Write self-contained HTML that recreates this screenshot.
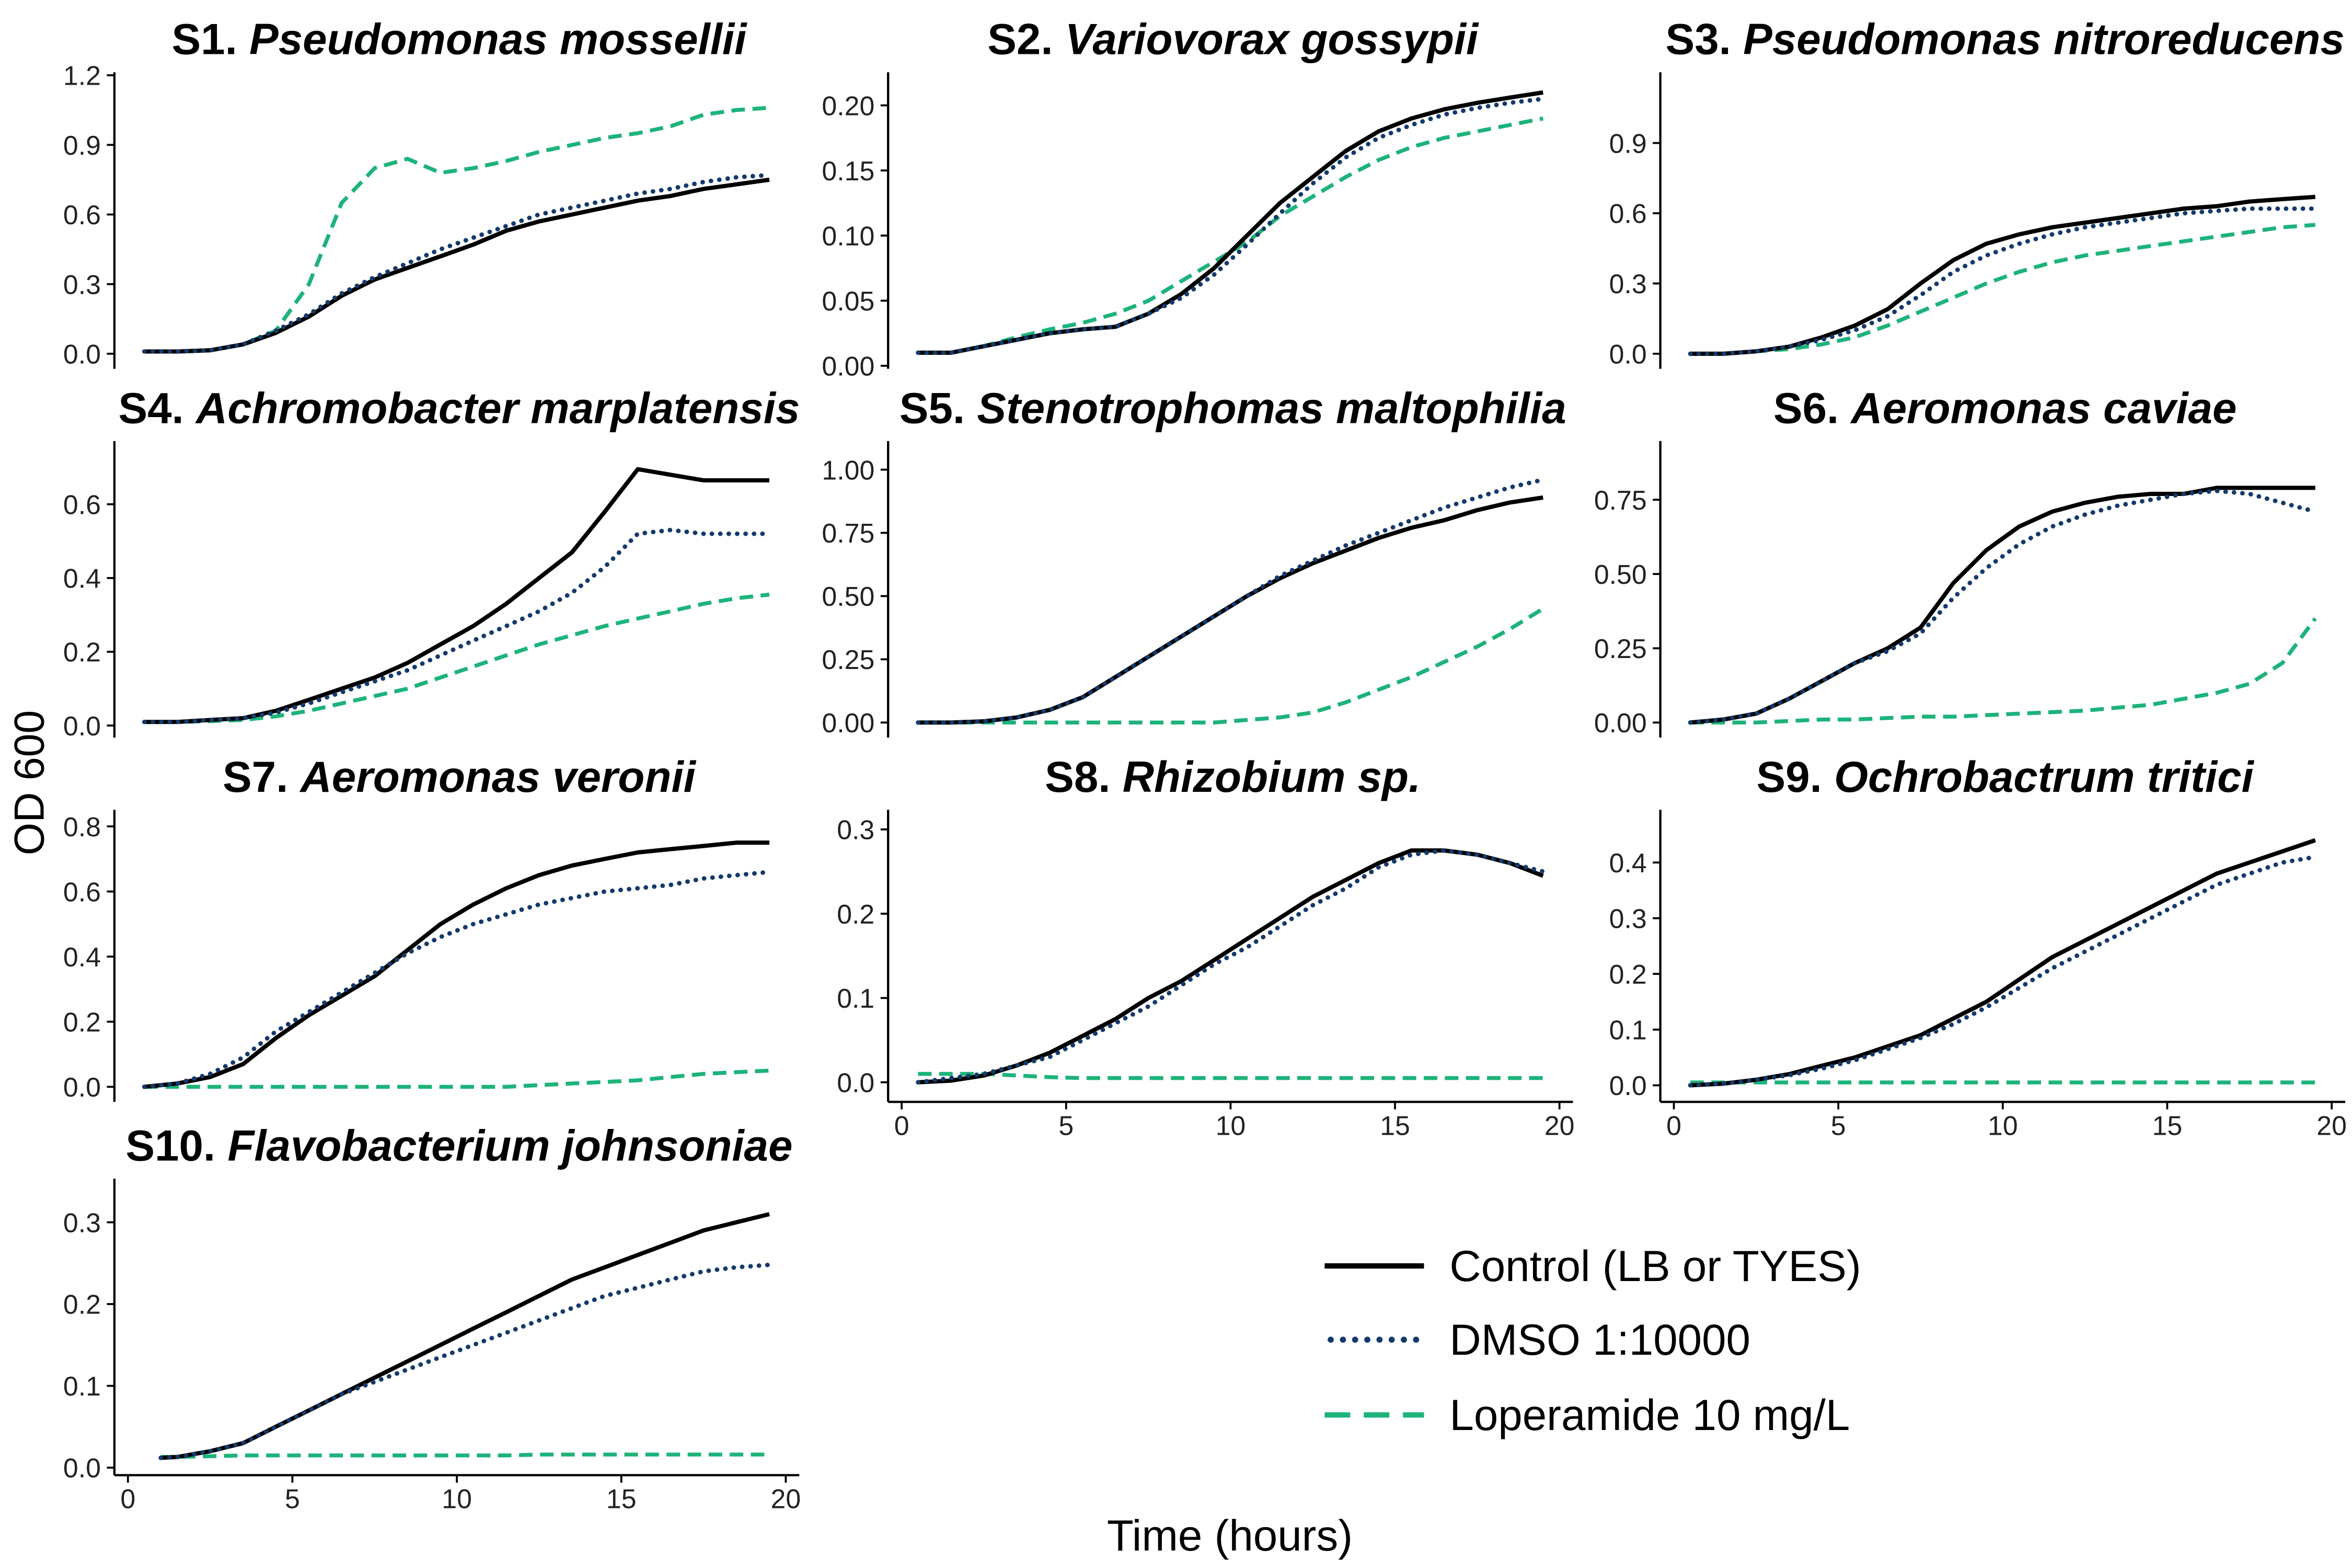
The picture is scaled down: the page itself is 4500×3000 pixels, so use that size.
<!DOCTYPE html>
<html><head><meta charset="utf-8"><style>
html,body{margin:0;padding:0;background:#fff;}
svg{display:block;}
text{font-family:"Liberation Sans",Arial,sans-serif;}
</style></head><body>
<svg id="chart" width="4500" height="3000" viewBox="0 0 1562.5 1041.67" preserveAspectRatio="none" xmlns="http://www.w3.org/2000/svg">
<rect width="1562.5" height="1041.67" fill="#fff"/>
<text x="0" y="0" transform="translate(29,520) rotate(-90)" text-anchor="middle" font-size="28" fill="#000">OD 600</text>
<text x="817" y="1030" text-anchor="middle" font-size="29" fill="#000">Time (hours)</text>
<g>
 <g><line x1="880" y1="841" x2="946" y2="841" stroke="#000" stroke-width="3.5"/><text x="963" y="851" font-size="29">Control (LB or TYES)</text></g>
 <g><line x1="884" y1="890" x2="946" y2="890" stroke="#143a6b" stroke-width="4" stroke-dasharray="0.1 8" stroke-linecap="round"/><text x="963" y="900" font-size="29">DMSO 1:10000</text></g>
 <g><line x1="880" y1="940" x2="946" y2="940" stroke="#1db37a" stroke-width="3.5" stroke-dasharray="17 9"/><text x="963" y="950" font-size="29">Loperamide 10 mg/L</text></g>
</g>
<g id="panels"></g>
</svg>
<script>
const times=[0.5,1.5,2.5,3.5,4.5,5.5,6.5,7.5,8.5,9.5,10.5,11.5,12.5,13.5,14.5,15.5,16.5,17.5,18.5,19.5];
const xTicks=[0,5,10,15,20];
const titlesCode=["S1.","S2.","S3.","S4.","S5.","S6.","S7.","S8.","S9.","S10."];
const titlesSpecies=["Pseudomonas mossellii","Variovorax gossypii","Pseudomonas nitroreducens","Achromobacter marplatensis","Stenotrophomas maltophilia","Aeromonas caviae","Aeromonas veronii","Rhizobium sp.","Ochrobactrum tritici","Flavobacterium johnsoniae"];
const yTickLabels=[["0.0","0.3","0.6","0.9","1.2"],["0.00","0.05","0.10","0.15","0.20"],["0.0","0.3","0.6","0.9"],["0.0","0.2","0.4","0.6"],["0.00","0.25","0.50","0.75","1.00"],["0.00","0.25","0.50","0.75"],["0.0","0.2","0.4","0.6","0.8"],["0.0","0.1","0.2","0.3"],["0.0","0.1","0.2","0.3","0.4"],["0.0","0.1","0.2","0.3"]];
const control=[
[.01,.01,.015,.04,.09,.16,.25,.32,.37,.42,.47,.53,.57,.6,.63,.66,.68,.71,.73,.75],
[.01,.01,.015,.02,.025,.028,.03,.04,.055,.075,.1,.125,.145,.165,.18,.19,.197,.202,.206,.21],
[0,0,.01,.03,.07,.12,.19,.3,.4,.47,.51,.54,.56,.58,.6,.62,.63,.65,.66,.67],
[.01,.01,.015,.02,.04,.07,.1,.13,.17,.22,.27,.33,.4,.47,.58,.695,.68,.665,.665,.665],
[0,0,.005,.02,.05,.1,.18,.26,.34,.42,.5,.57,.63,.68,.73,.77,.8,.84,.87,.89],
[0,.01,.03,.08,.14,.2,.25,.32,.47,.58,.66,.71,.74,.76,.77,.77,.79,.79,.79,.79],
[0,.01,.03,.07,.15,.22,.28,.34,.42,.5,.56,.61,.65,.68,.7,.72,.73,.74,.75,.75],
[0,.002,.008,.02,.035,.055,.075,.1,.12,.145,.17,.195,.22,.24,.26,.275,.275,.27,.26,.245],
[0,.003,.01,.02,.035,.05,.07,.09,.12,.15,.19,.23,.26,.29,.32,.35,.38,.4,.42,.44],
[.012,.013,.02,.03,.05,.07,.09,.11,.13,.15,.17,.19,.21,.23,.245,.26,.275,.29,.3,.31]];
const dmso=[
[.01,.01,.015,.04,.1,.17,.26,.33,.39,.45,.5,.55,.6,.63,.66,.69,.71,.74,.76,.77],
[.01,.01,.015,.02,.025,.028,.03,.04,.052,.07,.093,.117,.14,.16,.175,.185,.193,.198,.202,.205],
[0,0,.01,.03,.06,.1,.16,.25,.35,.42,.47,.51,.54,.56,.58,.6,.61,.62,.62,.62],
[.01,.01,.015,.02,.035,.06,.09,.12,.15,.19,.23,.27,.31,.36,.43,.52,.53,.52,.52,.52],
[0,0,.005,.02,.05,.1,.18,.26,.34,.42,.5,.58,.64,.7,.75,.8,.85,.89,.93,.96],
[0,.01,.03,.08,.14,.2,.24,.3,.42,.52,.6,.66,.7,.73,.75,.77,.78,.77,.74,.71],
[0,.01,.04,.09,.17,.23,.29,.35,.41,.46,.5,.53,.56,.58,.6,.61,.62,.64,.65,.66],
[0,.005,.01,.02,.03,.05,.07,.09,.115,.14,.16,.185,.21,.23,.255,.27,.275,.27,.26,.25],
[0,.003,.01,.018,.03,.045,.065,.085,.11,.14,.175,.21,.24,.27,.3,.33,.36,.38,.4,.41],
[.012,.013,.02,.03,.05,.07,.09,.105,.12,.135,.15,.165,.18,.195,.21,.22,.23,.24,.245,.248]];
const loperamide=[
[.01,.01,.015,.04,.1,.3,.65,.8,.84,.78,.8,.83,.87,.9,.93,.95,.98,1.03,1.05,1.06],
[.01,.01,.015,.022,.028,.033,.04,.05,.065,.08,.095,.115,.13,.145,.158,.168,.175,.18,.185,.19],
[0,0,.01,.02,.04,.07,.12,.18,.24,.3,.35,.39,.42,.44,.46,.48,.5,.52,.54,.55],
[.01,.01,.012,.015,.025,.04,.06,.08,.1,.13,.16,.19,.22,.245,.27,.29,.31,.33,.345,.355],
[0,0,0,0,0,0,0,0,0,0,.01,.02,.04,.08,.13,.18,.24,.3,.37,.45],
[0,0,0,.005,.01,.01,.015,.02,.02,.025,.03,.035,.04,.05,.06,.08,.1,.13,.2,.35],
[0,0,0,0,0,0,0,0,0,0,0,0,.005,.01,.015,.02,.03,.04,.045,.05],
[.01,.01,.01,.008,.006,.005,.005,.005,.005,.005,.005,.005,.005,.005,.005,.005,.005,.005,.005,.005],
[.005,.005,.005,.005,.005,.005,.005,.005,.005,.005,.005,.005,.005,.005,.005,.005,.005,.005,.005,.005],
[.013,.013,.014,.015,.015,.015,.015,.015,.015,.015,.015,.015,.016,.016,.016,.016,.016,.016,.016,.016]];
const yMaxTick=[1.2,0.2,0.9,0.6,1.0,0.75,0.8,0.3,0.4,0.3];

const NS="http://www.w3.org/2000/svg";
const root=document.getElementById('panels');
const colAxis=[76,590,1103];
const rowTop=[48,293,538,783];
const rowZeroY=[[235,243,235],[482,480,480],[722,719,721],[975]];
const rowMaxY=[[50,70,95],[335,312,332],[549,551,573],[812]];
function mk(tag,attrs,parent){const e=document.createElementNS(NS,tag);for(const k in attrs)e.setAttribute(k,attrs[k]);parent.appendChild(e);return e;}
for(let p=0;p<10;p++){
  const r=Math.floor(p/3), c=p%3;
  const ax=colAxis[c];
  const x0=ax+9, xScale=(437/20);
  const xf=t=>x0+t*xScale;
  const y0=rowZeroY[r][c], y1=rowMaxY[r][c];
  const yf=v=>y0-(v/yMaxTick[p])*(y0-y1);
  const g=mk('g',{},root);
  
  
  const top=rowTop[r], bot=top+(r===2?194:197);
  const cx=ax+229;
  const tt=mk('text',{x:cx,y:top-12,'text-anchor':'middle','font-size':'29','font-weight':'bold'},g);
  
  
  const s1=mk('tspan',{},tt);s1.textContent=titlesCode[p]+' ';
  const s2=mk('tspan',{'font-style':'italic'},tt);s2.textContent=titlesSpecies[p];
  const yl=mk('line',{x1:ax,y1:top,x2:ax,y2:bot,stroke:'#000','stroke-width':1.5},g);
  
  
  const labs=yTickLabels[p];
  for(let i=0;i<labs.length;i++){
    const v=parseFloat(labs[i]);const y=yf(v);
    mk('line',{x1:ax-5,y1:y,x2:ax,y2:y,stroke:'#000','stroke-width':1.3},g);
    const t=mk('text',{x:ax-9,y:y+6.5,'text-anchor':'end','font-size':'18',fill:'#222'},g);
    
    
    t.textContent=labs[i];
  }
  if(p>=7){
    const xl=mk('line',{x1:ax,y1:bot,x2:ax+455,y2:bot,stroke:'#000','stroke-width':1.5},g);
    
    
    for(const tv of xTicks){
      const x=xf(tv);
      mk('line',{x1:x,y1:bot,x2:x,y2:bot+5,stroke:'#000','stroke-width':1.3},g);
      const t=mk('text',{x:x,y:bot+22,'text-anchor':'middle','font-size':'18',fill:'#222'},g);
      
      
      t.textContent=tv;
    }
  }
  function line(arr,style,name){
    let d='';arr.forEach((v,i)=>{const tx=(p===9&&i===0)?1:times[i];d+=(i?'L':'M')+xf(tx).toFixed(1)+' '+yf(v).toFixed(1);});
    const e=mk('path',Object.assign({d:d,fill:'none'},style),g);
    
    
  }
  line(loperamide[p],{stroke:'#1db37a','stroke-width':2.6,'stroke-dasharray':'9 5'},'loperamide-line');
  line(control[p],{stroke:'#000','stroke-width':2.8,'stroke-linejoin':'round'},'control-line');
  line(dmso[p],{stroke:'#143a6b','stroke-width':3,'stroke-dasharray':'0.1 5.5','stroke-linecap':'round'},'dmso-line');
}
</script>
</body></html>
